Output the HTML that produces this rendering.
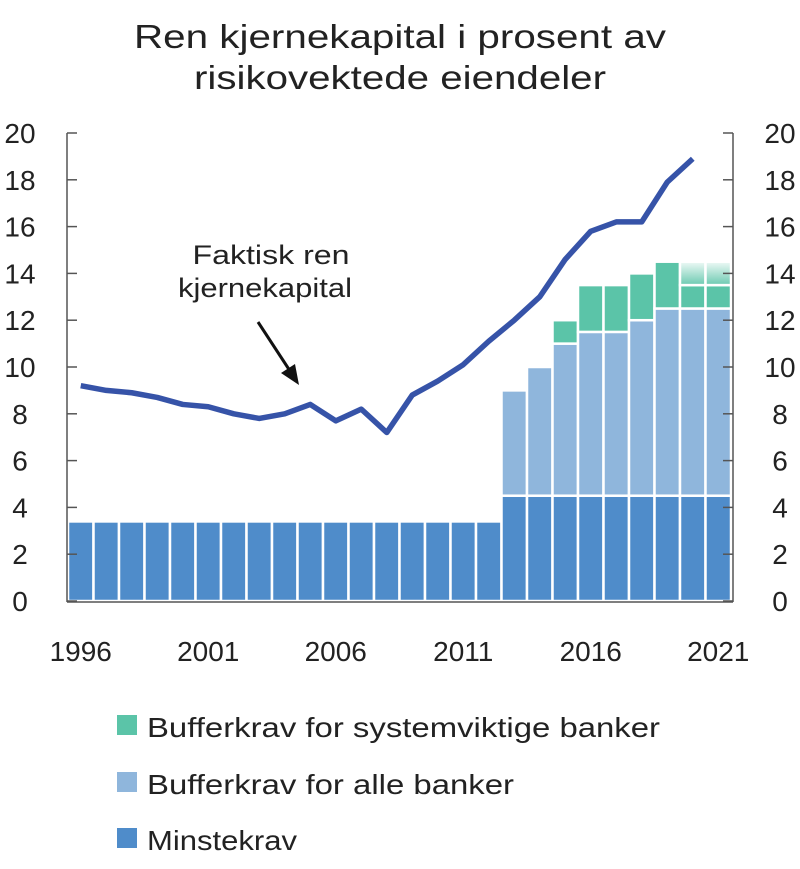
<!DOCTYPE html>
<html><head><meta charset="utf-8"><style>
body{margin:0;background:#fff;}
svg{display:block;font-family:"Liberation Sans",sans-serif;}
</style></head><body>
<svg id="chart" width="800" height="869">
<defs><linearGradient id="fade" x1="0" y1="1" x2="0" y2="0"><stop offset="0" stop-color="#5bc4a8" stop-opacity="0.9"/><stop offset="1" stop-color="#5bc4a8" stop-opacity="0.1"/></linearGradient></defs>
<text x="400" y="48" font-size="33" text-anchor="middle" fill="#222" textLength="532" lengthAdjust="spacingAndGlyphs">Ren kjernekapital i prosent av</text>
<text x="400" y="89" font-size="33" text-anchor="middle" fill="#222" textLength="412" lengthAdjust="spacingAndGlyphs">risikovektede eiendeler</text>
<g id="bars"></g><g id="axes"></g>
<path id="line" fill="none" stroke="#3653a8" stroke-width="5.5" stroke-linejoin="round"/>
<text x="271" y="264" font-size="27" text-anchor="middle" fill="#222" textLength="157" lengthAdjust="spacingAndGlyphs">Faktisk ren</text>
<text x="265" y="297" font-size="27" text-anchor="middle" fill="#222" textLength="174" lengthAdjust="spacingAndGlyphs">kjernekapital</text>
<line x1="258" y1="322" x2="292" y2="374" stroke="#111" stroke-width="3"/>
<polygon points="299,385 281,373 295,364" fill="#111"/>
<g>
<rect x="117" y="715" width="20" height="20" fill="#5bc4a8"/>
<text x="147" y="737" font-size="28" fill="#222" textLength="513" lengthAdjust="spacingAndGlyphs">Bufferkrav for systemviktige banker</text>
<rect x="117" y="772" width="20" height="20" fill="#8fb6dc"/>
<text x="147" y="794" font-size="28" fill="#222" textLength="367" lengthAdjust="spacingAndGlyphs">Bufferkrav for alle banker</text>
<rect x="117" y="828" width="20" height="20" fill="#4f8cca"/>
<text x="147" y="850" font-size="28" fill="#222" textLength="150" lengthAdjust="spacingAndGlyphs">Minstekrav</text>
</g>
</svg>
<script>
const years=[1996,1997,1998,1999,2000,2001,2002,2003,2004,2005,2006,2007,2008,2009,2010,2011,2012,2013,2014,2015,2016,2017,2018,2019,2020,2021];
const minstekrav=[3.4,3.4,3.4,3.4,3.4,3.4,3.4,3.4,3.4,3.4,3.4,3.4,3.4,3.4,3.4,3.4,3.4,4.5,4.5,4.5,4.5,4.5,4.5,4.5,4.5,4.5];
const bufferAlle=[0,0,0,0,0,0,0,0,0,0,0,0,0,0,0,0,0,4.5,5.5,6.5,7,7,7.5,8,8,8];
const bufferSystem=[0,0,0,0,0,0,0,0,0,0,0,0,0,0,0,0,0,0,0,1,2,2,2,2,1,1];
const bufferSystemPlanned=[0,0,0,0,0,0,0,0,0,0,0,0,0,0,0,0,0,0,0,0,0,0,0,0,1,1];
const lineYears=[1996,1997,1998,1999,2000,2001,2002,2003,2004,2005,2006,2007,2008,2009,2010,2011,2012,2013,2014,2015,2016,2017,2018,2019,2020];
const lineValues=[9.2,9.0,8.9,8.7,8.4,8.3,8.0,7.8,8.0,8.4,7.7,8.2,7.2,8.8,9.4,10.1,11.1,12.0,13.0,14.6,15.8,16.2,16.2,17.9,18.9];
const yTicks=[0,2,4,6,8,10,12,14,16,18,20];
const xTickLabels=[1996,2001,2006,2011,2016,2021];
const NS="http://www.w3.org/2000/svg";
const X0=68,PITCH=25.5,Y0=601,YS=23.4,L=67,R=733;
const xc=y=>X0+(y-1996)*PITCH+PITCH/2;
const yv=v=>Y0-v*YS;
function mk(tag,attrs,parent){const e=document.createElementNS(NS,tag);for(const k in attrs)e.setAttribute(k,attrs[k]);parent.appendChild(e);return e;}
const bars=document.getElementById('bars'),axes=document.getElementById('axes');
years.forEach((yr,i)=>{
 const segs=[[minstekrav[i],'#4f8cca','bar-minstekrav'],[bufferAlle[i],'#8fb6dc','bar-buffer-alle'],[bufferSystem[i],'#5bc4a8','bar-buffer-system'],[bufferSystemPlanned[i],'url(#fade)','bar-buffer-system-planned']];
 let base=0;
 segs.forEach(s=>{if(s[0]>0){
  const r=mk('rect',{x:xc(yr)-PITCH/2,y:yv(base+s[0]),width:PITCH,height:s[0]*YS,fill:s[1],stroke:'#fff','stroke-width':2.5},bars);
  
  
  base+=s[0];}});
});
const la=mk('line',{x1:L,y1:yv(20),x2:L,y2:Y0+1,stroke:'#555','stroke-width':1.5},axes);

const ra=mk('line',{x1:R,y1:yv(20),x2:R,y2:Y0+1,stroke:'#555','stroke-width':1.5},axes);

const xa=mk('line',{x1:L,y1:Y0+1,x2:R,y2:Y0+1,stroke:'#555','stroke-width':1.5},axes);

yTicks.forEach(t=>{
 mk('line',{x1:L,y1:yv(t),x2:L+10,y2:yv(t),stroke:'#555','stroke-width':1.5},axes);
 mk('line',{x1:R-10,y1:yv(t),x2:R,y2:yv(t),stroke:'#555','stroke-width':1.5},axes);
 const a=mk('text',{x:20,y:yv(t)+10,'font-size':28,'text-anchor':'middle',fill:'#222'},axes);a.textContent=t;
 
 const b=mk('text',{x:780,y:yv(t)+10,'font-size':28,'text-anchor':'middle',fill:'#222'},axes);b.textContent=t;
 
});
xTickLabels.forEach(y=>{
 const t=mk('text',{x:xc(y),y:661,'font-size':28,'text-anchor':'middle',fill:'#222'},axes);t.textContent=y;
 
});
document.getElementById('line').setAttribute('d',lineYears.map((y,i)=>(i?'L':'M')+xc(y)+','+yv(lineValues[i])).join(' '));
</script>
</body></html>
